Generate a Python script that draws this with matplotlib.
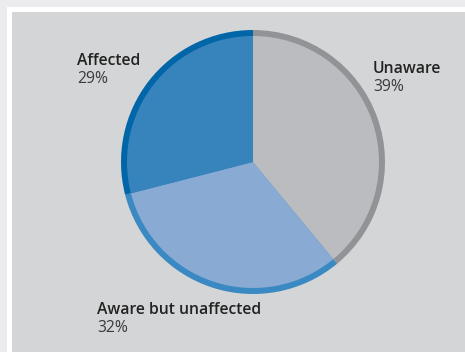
import matplotlib
matplotlib.use("Agg")
import matplotlib.pyplot as plt
from matplotlib.patches import Rectangle

categories = ["Unaware", "Aware but unaffected", "Affected"]
values = [39, 32, 29]
pct_labels = ["39%", "32%", "29%"]
fill_colors = ["#bbbcbf", "#88aad3", "#3784bd"]
rim_colors = ["#929396", "#3a89c2", "#0066a8"]

W, H = 465, 352
fig = plt.figure(figsize=(W / 100, H / 100), dpi=100, facecolor="#ececee")
ax = fig.add_axes([0, 0, 1, 1])

# frame
ax.add_patch(Rectangle((7, 0), W - 7, H - 7, facecolor="white", edgecolor="none", zorder=0))
ax.add_patch(Rectangle((11.5, 0), W - 11.5, H - 12, facecolor="#d4d5d7", edgecolor="none", zorder=0))

cx, cy, R = 253, H - 162, 132
rim = 6
ax.pie(values, colors=rim_colors, startangle=90, counterclock=False,
       center=(cx, cy), radius=R, frame=True,
       wedgeprops=dict(linewidth=0))
ax.pie(values, colors=fill_colors, startangle=90, counterclock=False,
       center=(cx, cy), radius=R - rim, frame=True,
       wedgeprops=dict(linewidth=0))
ax.set_xlim(0, W)
ax.set_ylim(0, H)
ax.set_aspect("auto")
ax.axis("off")

fam = ["Open Sans", "DejaVu Sans"]
label_pos = {"Unaware": (373, 73), "Aware but unaffected": (97, 314), "Affected": (77, 65)}
for cat, pct in zip(categories, pct_labels):
    x, yb = label_pos[cat]
    ax.text(x, H - yb, cat, fontsize=11.3, family=fam, weight="semibold",
            color="#222222", ha="left", va="baseline")
    ax.text(x, H - yb - 18, pct, fontsize=11.3, family=fam,
            color="#3a3a3a", ha="left", va="baseline")

fig.savefig("out.png", dpi=100, facecolor=fig.get_facecolor())
